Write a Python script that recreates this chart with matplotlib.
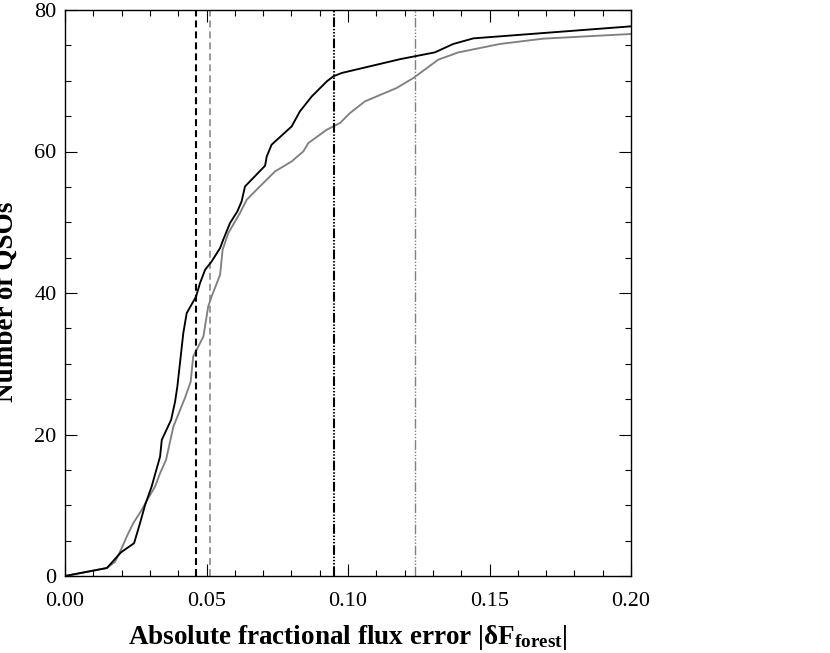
import matplotlib
matplotlib.use("Agg")
import matplotlib.pyplot as plt
from matplotlib.ticker import MultipleLocator, FormatStrFormatter

plt.rcParams['font.family'] = ['Liberation Serif', 'DejaVu Serif']
plt.rcParams['mathtext.fontset'] = 'custom'
plt.rcParams['mathtext.rm'] = 'Liberation Serif:bold'
plt.rcParams['mathtext.bf'] = 'Liberation Serif:bold'
plt.rcParams['mathtext.it'] = 'Liberation Serif:bold'
plt.rcParams['lines.scale_dashes'] = False

# Cumulative number of QSOs vs absolute fractional flux error
black_x = [0, 0.0148, 0.0198, 0.0244, 0.0265, 0.0283, 0.0306, 0.0336, 0.0342, 0.0375,
           0.0389, 0.0397, 0.0418, 0.0430, 0.0463, 0.0477, 0.0495, 0.0518, 0.0548, 0.0559,
           0.0583, 0.0609, 0.0624, 0.0636, 0.0707, 0.0713, 0.0730, 0.0801, 0.0830, 0.0872,
           0.0925, 0.0948, 0.0978, 0.1184, 0.1307, 0.1372, 0.1443, 0.2]
black_y = [0, 1.13, 3.35, 4.63, 7.45, 10.04, 12.63, 16.88, 19.24, 22.07,
           24.65, 26.77, 34.32, 37.15, 39.49, 41.39, 43.28, 44.45, 46.35, 47.52,
           49.88, 51.53, 52.94, 55.06, 57.99, 59.31, 60.96, 63.55, 65.67, 67.79,
           69.91, 70.62, 71.10, 73.05, 74.01, 75.20, 75.99, 77.69]

gray_x = [0, 0.0148, 0.0177, 0.0200, 0.0218, 0.0241, 0.0271, 0.0294, 0.0318, 0.0336,
          0.0357, 0.0383, 0.0424, 0.0444, 0.0453, 0.0465, 0.0489, 0.0506, 0.0518, 0.0548,
          0.0557, 0.0577, 0.0618, 0.0642, 0.0677, 0.0742, 0.0801, 0.0842, 0.0860, 0.0925,
          0.0972, 0.1007, 0.1060, 0.1172, 0.1231, 0.1319, 0.1390, 0.1537, 0.1690, 0.2]
gray_y = [0, 1.13, 2.02, 3.91, 5.56, 7.45, 9.34, 10.99, 12.63, 14.53,
          16.41, 21.12, 25.18, 27.44, 31.02, 31.96, 33.85, 38.09, 39.49, 42.57,
          46.11, 48.46, 51.29, 53.18, 54.60, 57.18, 58.60, 60.01, 61.20, 63.08,
          64.03, 65.44, 67.09, 68.98, 70.39, 72.98, 74.01, 75.20, 75.95, 76.61]

# Vertical reference lines
black_dashed_x = 0.0462
gray_dashed_x = 0.0514
black_dashdot_x = 0.0951
gray_dashdot_x = 0.1235

xticks = [0.00, 0.05, 0.10, 0.15, 0.20]
yticks = [0, 20, 40, 60, 80]

GRAY = '#808080'

fig = plt.figure(figsize=(8.30, 6.53), dpi=100)
ax = fig.add_axes([65/830, (653-576)/653, (631-65)/830, (576-10)/653])

ax.plot(black_x, black_y, color='black', lw=1.35, zorder=3,
        solid_joinstyle='round')
ax.plot(gray_x, gray_y, color=GRAY, lw=1.35, zorder=2, solid_joinstyle='round')

ax.axvline(black_dashed_x, color='black', lw=1.5, dashes=(5, 2.9))
ax.axvline(gray_dashed_x, color=GRAY, lw=1.1, dashes=(5, 2.9))
ddd = (7, 1.3, 1.0, 1.3, 1.0, 1.3, 1.0, 1.3)
ax.axvline(black_dashdot_x, color='black', lw=1.5, dashes=ddd)
ax.axvline(gray_dashdot_x, color=GRAY, lw=1.0, dashes=ddd)

ax.set_xlim(0, 0.2)
ax.set_ylim(0, 80)
ax.set_xticks(xticks)
ax.set_yticks(yticks)
ax.xaxis.set_major_formatter(FormatStrFormatter('%.2f'))
ax.xaxis.set_minor_locator(MultipleLocator(0.01))
ax.yaxis.set_minor_locator(MultipleLocator(5))
ax.tick_params(which='both', direction='in', top=True, right=True, width=0.8)
ax.tick_params(which='major', length=8.5, labelsize=16)
ax.tick_params(axis='y', which='major', pad=6)
ax.tick_params(axis='x', which='major', pad=11.5)
ax.tick_params(which='minor', length=4.2)
for s in ax.spines.values():
    s.set_linewidth(1.0)

ax.set_xlabel('Absolute fractional flux error |δF$_{\\mathbf{forest}}$|',
              fontsize=19.5, fontweight='bold', labelpad=9)
fig.text(0.0072, 0.5375, 'Number of QSOs', rotation=90, ha='center', va='center',
         fontsize=19.5, fontweight='bold')

fig.savefig('out.png', dpi=100)
